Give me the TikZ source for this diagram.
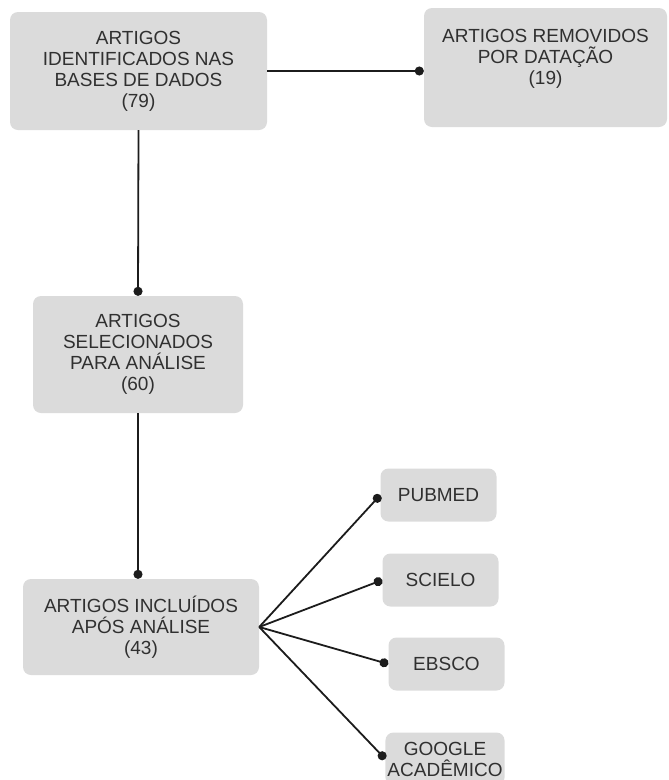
\documentclass[tikz,border=0pt]{standalone}
\usepackage{fontspec}
\setmainfont{Liberation Sans}
\usetikzlibrary{arrows.meta,positioning}
\definecolor{boxgray}{RGB}{219,219,219}
\definecolor{inkgray}{RGB}{48,48,48}
\definecolor{wire}{RGB}{28,28,28}
\tikzset{
  card/.style={fill=boxgray,rounded corners=8pt,align=center,text=inkgray,font=\fontsize{19}{21}\selectfont,inner sep=2pt},
  link/.style={-{Circle[length=9pt]},draw=wire,line width=1.8pt}
}

\begin{document}
\begin{tikzpicture}[x=1pt,y=-1pt]
\useasboundingbox (0,0) rectangle (669,780);
\clip (0,0) rectangle (669,780);
\node[card,minimum width=257pt,minimum height=118pt] (ident) at (138.5,71) {ARTIGOS\\IDENTIFICADOS NAS\\BASES DE DADOS\\(79)};
\node[card,minimum width=243pt,minimum height=119pt] (removed) at (545.5,67.5) {ARTIGOS REMOVIDOS\\POR DATAÇÃO\\(19)\\\mbox{}};
\node[card,minimum width=210pt,minimum height=117pt] (selected) at (138,354.5) {ARTIGOS\\SELECIONADOS\\PARA ANÁLISE\\(60)};
\node[card,minimum width=236pt,minimum height=96pt] (included) at (141,627) {ARTIGOS INCLUÍDOS\\APÓS ANÁLISE\\(43)};
% bases consultadas
\foreach \name/\cx/\cy/\lab in {pubmed/438.5/495/PUBMED,scielo/440.5/580/SCIELO,ebsco/446.5/664/EBSCO,google/445/759/GOOGLE\\ACADÊMICO} {
  \node[card,minimum width=116pt,minimum height=53pt] (\name) at (\cx,\cy) {\lab};
}
\draw[link] (ident.east) -- (ident.east -| removed.west);
\draw[link] (ident.south) -- (selected.north);
\draw[link] (selected.south) -- (selected.south |- included.north);
\foreach \name in {pubmed,scielo,ebsco,google} {
  \draw[link] (included.east) -- (\name.west);
}
\end{tikzpicture}
\end{document}
